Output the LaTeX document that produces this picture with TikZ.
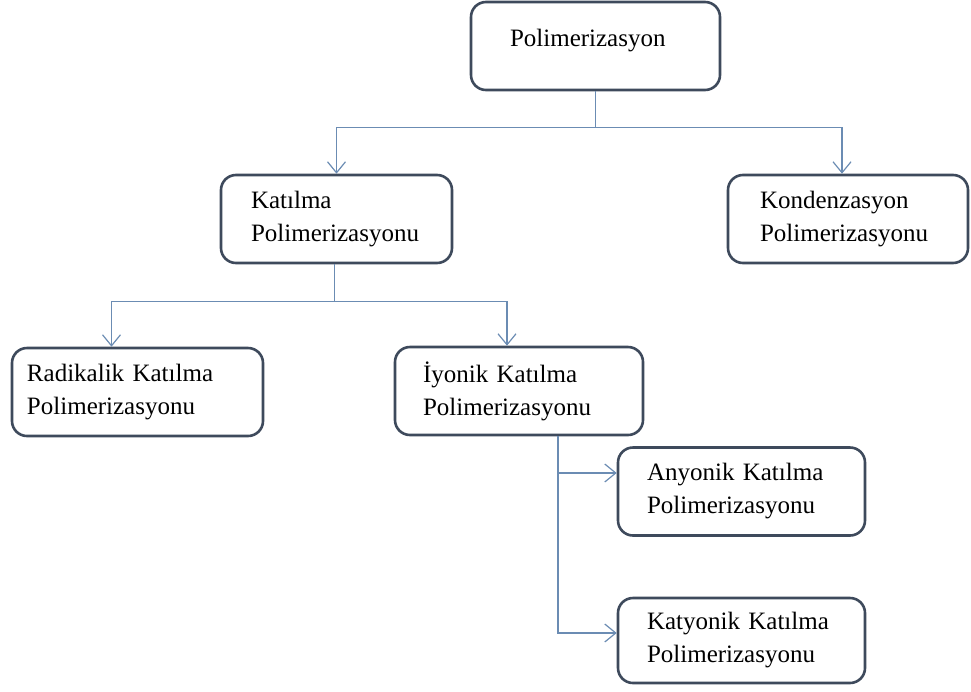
\documentclass[tikz,border=0pt]{standalone}
\usepackage{fontspec}
\setmainfont{Liberation Serif}
\usetikzlibrary{arrows.meta}

\definecolor{kenar}{HTML}{3E4A5C}
\definecolor{hat}{HTML}{6B8CB3}

\tikzset{
    kutu/.style={draw=kenar, line width=2.6pt, rounded corners=15pt, fill=white,
        align=left, minimum height=88pt, inner sep=0pt,
        font=\fontsize{25}{33}\selectfont},
    ok/.style={draw=hat, line width=1.4pt, -{Straight Barb[length=11pt, width=18pt, line width=1.2pt]}},
    hatcizgi/.style={draw=hat, line width=1.4pt}
}

\begin{document}
\begin{tikzpicture}[x=1pt, y=-1pt]
        \useasboundingbox (0,0) rectangle (971,691);
        % polymerisation tree
        \node[kutu, minimum width=249pt, text width=171pt, text height=10pt, text depth=10pt] (pol) at (595.5,46) {Polimerizasyon};
        \node[kutu, minimum width=231pt, text width=171pt] (kat) at (336.5,219) {Katılma\\Polimerizasyonu};
        \node[kutu, minimum width=240pt, text width=176pt] (kon) at (848,219) {Kondenzasyon\\Polimerizasyonu};
        \node[kutu, minimum width=251pt, text width=221pt] (rad) at (137.5,392) {Radikalik Katılma\\Polimerizasyonu};
        \node[kutu, minimum width=248pt, text width=192pt] (iyo) at (519,391) {İyonik Katılma\\Polimerizasyonu};
        \node[kutu, minimum width=247pt, text width=189pt] (any) at (741.5,491.5) {Anyonik Katılma\\Polimerizasyonu};
        \node[kutu, minimum width=247pt, text width=189pt, minimum height=85pt] (katy) at (741.5,640.5) {Katyonik Katılma\\Polimerizasyonu};

        % connectors
        \draw[hatcizgi] (pol.south) -- ++(0,36) coordinate (p1);
        \draw[ok] (p1) -| (kat.north);
        \draw[ok] (p1) -| ([xshift=-6pt]kon.north);
        \draw[hatcizgi] ([xshift=-2pt]kat.south) -- ++(0,37) coordinate (k1);
        \draw[ok] (k1) -| ([xshift=-26pt]rad.north);
        \draw[ok] (k1) -| ([xshift=-12pt]iyo.north);
        \draw[ok] ([xshift=39pt]iyo.south) |- ([yshift=18.5pt]any.west);
        \draw[ok] ([xshift=39pt]iyo.south) |- ([yshift=7.5pt]katy.west);
    \end{tikzpicture}
\end{document}
